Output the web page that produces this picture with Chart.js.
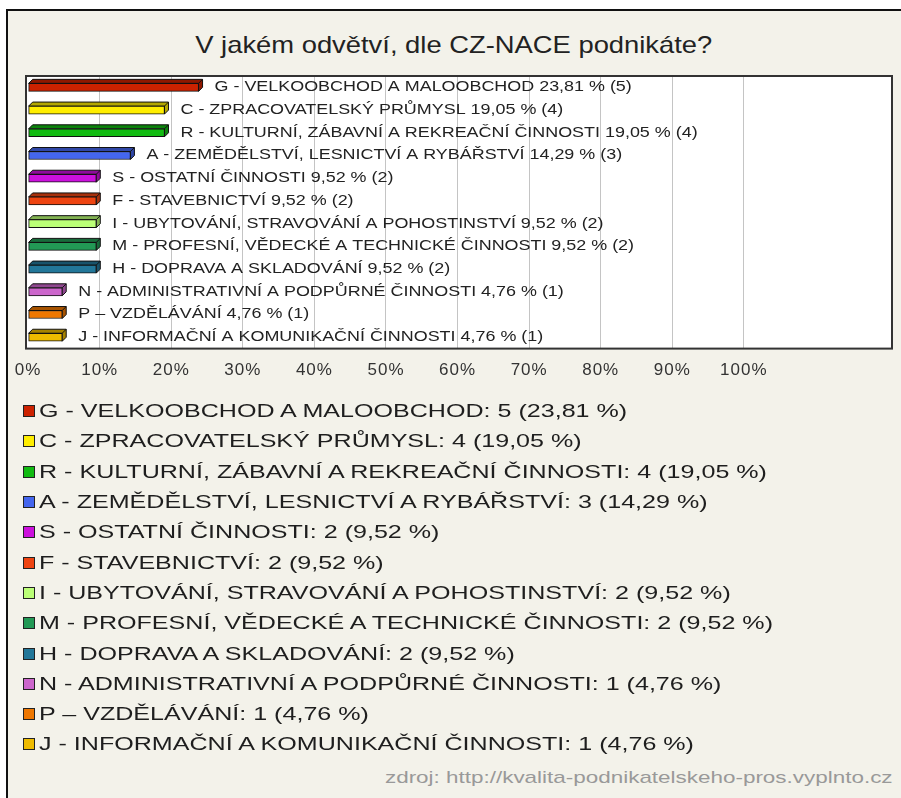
<!DOCTYPE html>
<html>
<head>
<meta charset="utf-8">
<script src="https://cdn.jsdelivr.net/npm/chart.js@4.4.1/dist/chart.umd.min.js"></script>
<style>
  html, body { margin: 0; padding: 0; background: #fff; }
  #wrap { position: relative; width: 901px; height: 798px; overflow: hidden; font-family: "Liberation Sans", Arial, sans-serif; }
  #frame { position: absolute; left: 6px; top: 9px; width: 1000px; height: 1000px; border-left: 2px solid #111; border-top: 2px solid #111; background: #f3f2ea; }
  #title { position: absolute; left: 0; width: 907px; top: 30px; text-align: center; font-size: 24px; color: #222; line-height: 30px; }
  #title span { display: inline-block; transform: scaleX(1.14); }
  canvas { position: absolute; left: 0; top: 0; }
  #legend { position: absolute; left: 23px; top: 396px; }
  .row { height: 30.3px; display: flex; align-items: center; }
  .box { width: 10px; height: 10px; border: 1.5px solid #222; margin-right: 4px; flex: none; }
  .txt { font-size: 19px; color: #1e1e1e; display: inline-block; white-space: nowrap; transform: scaleX(1.32); transform-origin: left center; }
  #src { position: absolute; right: 8px; top: 768px; font-size: 17px; color: #999; white-space: nowrap; transform: scaleX(1.32); transform-origin: right center; }
</style>
</head>
<body>
<div id="wrap">
  <div id="frame"></div>
  <div id="title"><span>V jakém odvětví, dle CZ-NACE podnikáte?</span></div>
  <canvas id="chart" width="901" height="414"></canvas>
  <div id="legend"></div>
  <div id="src">zdroj: http://kvalita-podnikatelskeho-pros.vyplnto.cz</div>
</div>
<script>
const categories = [
  "G - VELKOOBCHOD A MALOOBCHOD",
  "C - ZPRACOVATELSKÝ PRŮMYSL",
  "R - KULTURNÍ, ZÁBAVNÍ A REKREAČNÍ ČINNOSTI",
  "A - ZEMĚDĚLSTVÍ, LESNICTVÍ A RYBÁŘSTVÍ",
  "S - OSTATNÍ ČINNOSTI",
  "F - STAVEBNICTVÍ",
  "I - UBYTOVÁNÍ, STRAVOVÁNÍ A POHOSTINSTVÍ",
  "M - PROFESNÍ, VĚDECKÉ A TECHNICKÉ ČINNOSTI",
  "H - DOPRAVA A SKLADOVÁNÍ",
  "N - ADMINISTRATIVNÍ A PODPŮRNÉ ČINNOSTI",
  "P – VZDĚLÁVÁNÍ",
  "J - INFORMAČNÍ A KOMUNIKAČNÍ ČINNOSTI"
];
const counts = [5, 4, 4, 3, 2, 2, 2, 2, 2, 1, 1, 1];
const shares = [23.81, 19.05, 19.05, 14.29, 9.52, 9.52, 9.52, 9.52, 9.52, 4.76, 4.76, 4.76];
const tickValues = [0, 10, 20, 30, 40, 50, 60, 70, 80, 90, 100];
const colors = ['#cc2200', '#ffee00', '#11bb11', '#4466ee', '#cc11dd', '#ee4411',
                '#bbff77', '#229955', '#227799', '#cc66cc', '#ee7700', '#eebb00'];

const fmt = v => v.toFixed(2).replace('.', ',');

function shade(hex, f) {
  const n = parseInt(hex.slice(1), 16);
  const r = Math.round(((n >> 16) & 255) * f);
  const g = Math.round(((n >> 8) & 255) * f);
  const b = Math.round((n & 255) * f);
  return `rgb(${r},${g},${b})`;
}

// plot background, 3d depth of bars, labels, frame
const bars3d = {
  id: 'bars3d',
  beforeDraw(chart) {
    const {ctx, chartArea: a} = chart;
    ctx.save();
    ctx.fillStyle = '#fff';
    ctx.fillRect(a.left, a.top, a.right - a.left, a.bottom - a.top);
    ctx.restore();
    ctx.letterSpacing = '1px';
  },
  beforeDatasetsDraw(chart) {
    const ctx = chart.ctx;
    const d = 4;
    ctx.save();
    chart.getDatasetMeta(0).data.forEach((bar, i) => {
      const {x, y, base, height} = bar.getProps(['x', 'y', 'base', 'height'], true);
      const top = y - height / 2, bottom = y + height / 2;
      ctx.beginPath();
      ctx.moveTo(base, top);
      ctx.lineTo(base + d, top - d);
      ctx.lineTo(x + d, top - d);
      ctx.lineTo(x + d, bottom - d);
      ctx.lineTo(x, bottom);
      ctx.lineTo(x, top);
      ctx.closePath();
      ctx.fillStyle = shade(colors[i], 0.7);
      ctx.fill();
      ctx.strokeStyle = '#111';
      ctx.lineWidth = 1;
      ctx.stroke();
      ctx.beginPath();
      ctx.moveTo(x, top);
      ctx.lineTo(x + d, top - d);
      ctx.stroke();
    });
    ctx.restore();
  },
  afterDatasetsDraw(chart) {
    const ctx = chart.ctx;
    ctx.save();
    ctx.letterSpacing = '0px';
    ctx.font = '14px "Liberation Sans", Arial, sans-serif';
    ctx.fillStyle = '#222';
    ctx.textBaseline = 'middle';
    chart.getDatasetMeta(0).data.forEach((bar, i) => {
      ctx.save();
      ctx.translate(bar.x + 16, bar.y);
      ctx.scale(1.28, 1);
      ctx.fillText(`${categories[i]} ${fmt(shares[i])} % (${counts[i]})`, 0, 0);
      ctx.restore();
    });
    ctx.restore();
  },
  afterDraw(chart) {
    const {ctx, chartArea: a} = chart;
    ctx.save();
    ctx.strokeStyle = '#333';
    ctx.lineWidth = 2;
    ctx.strokeRect(a.left, a.top, a.right - a.left, a.bottom - a.top);
    ctx.restore();
  }
};

new Chart(document.getElementById('chart'), {
  type: 'bar',
  data: {
    labels: categories,
    datasets: [{
      data: shares,
      backgroundColor: colors,
      borderColor: '#111',
      borderWidth: 1,
      borderSkipped: false,
      barThickness: 8
    }]
  },
  options: {
    indexAxis: 'y',
    responsive: false,
    animation: false,
    devicePixelRatio: 1,
    layout: {padding: {left: 26, right: 9, top: 76, bottom: 21}},
    plugins: {legend: {display: false}, tooltip: {enabled: false}},
    scales: {
      y: {display: false, offset: true},
      x: {
        min: -0.3,
        max: 120.7,
        afterBuildTicks: scale => { scale.ticks = tickValues.map(v => ({value: v})); },
        border: {display: false},
        grid: {
          drawTicks: false,
          color: c => (c.tick && c.tick.value === 0) ? 'rgba(0,0,0,0)' : '#c4c4c4'
        },
        ticks: {
          padding: 12,
          color: '#333',
          maxRotation: 0,
          autoSkip: false,
          font: {family: '"Liberation Sans", Arial, sans-serif', size: 17},
          callback: v => v + '%'
        }
      }
    }
  },
  plugins: [bars3d]
});

const legend = document.getElementById('legend');
categories.forEach((c, i) => {
  const row = document.createElement('div');
  row.className = 'row';
  const box = document.createElement('span');
  box.className = 'box';
  box.style.background = colors[i];
  const txt = document.createElement('span');
  txt.className = 'txt';
  txt.textContent = `${c}: ${counts[i]} (${fmt(shares[i])} %)`;
  row.appendChild(box);
  row.appendChild(txt);
  legend.appendChild(row);
});
</script>
</body>
</html>
